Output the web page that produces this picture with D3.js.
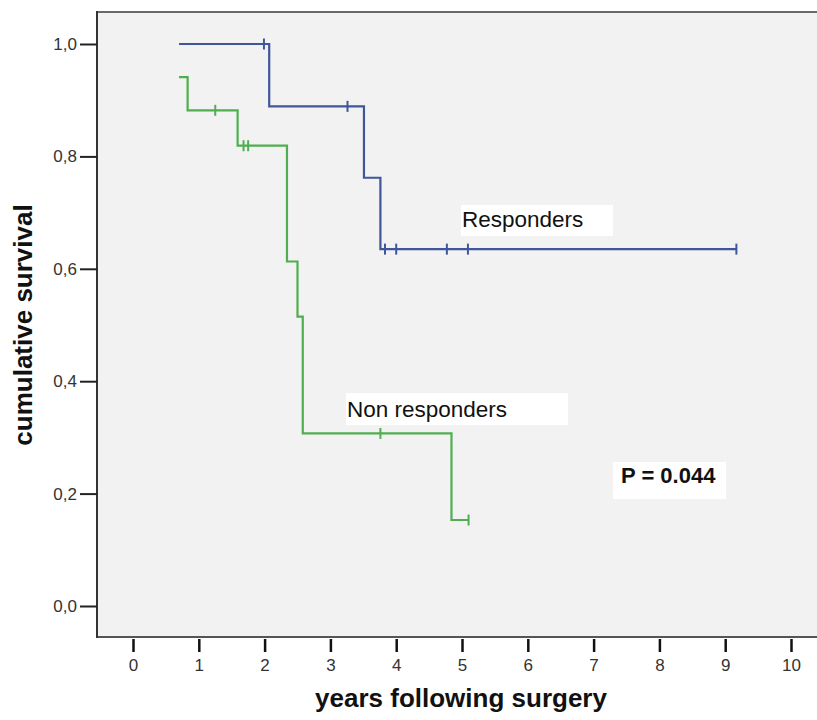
<!DOCTYPE html>
<html>
<head>
<meta charset="utf-8">
<script src="https://cdn.jsdelivr.net/npm/d3@7"></script>
<style>
  body { margin: 0; background: #fff; }
  text { font-family: Arial, "Liberation Sans", sans-serif; }
</style>
</head>
<body>
<div id="container"></div>
<script>
// Responders (blue curve)
const respStart = 0.7;
const respStartSurv = 1.0;
const respDropTimes = [2.07, 3.51, 3.76];
const respDropSurv = [0.889, 0.762, 0.635];
const respCensorTimes = [1.99, 3.26, 3.83, 4.0, 4.77, 5.09, 9.17];

// Non responders (green curve)
const nonStart = 0.7;
const nonStartSurv = 0.941;
const nonDropTimes = [0.83, 1.59, 2.34, 2.50, 2.58, 4.84];
const nonDropSurv = [0.882, 0.819, 0.613, 0.515, 0.307, 0.153];
const nonCensorTimes = [1.25, 1.68, 1.75, 3.76, 5.10];

const xTicks = [0, 1, 2, 3, 4, 5, 6, 7, 8, 9, 10];
const yTicks = [0, 0.2, 0.4, 0.6, 0.8, 1.0];

const WIDTH = 817;
const HEIGHT = 720;

const svg = d3.select("#container")
  .append("svg")
  .attr("width", WIDTH)
  .attr("height", HEIGHT);

const x = d3.scaleLinear().domain([0, 10]).range([133, 791]);
const y = d3.scaleLinear().domain([0, 1]).range([606, 44]);

// plot frame
const frameLeft = 97, frameTop = 12, frameBottom = 637;
svg.append("rect")
  .attr("x", frameLeft)
  .attr("y", frameTop)
  .attr("width", WIDTH - frameLeft)
  .attr("height", frameBottom - frameTop)
  .attr("fill", "#f2f2f2");

svg.append("line")
  .attr("x1", frameLeft).attr("x2", WIDTH)
  .attr("y1", frameTop).attr("y2", frameTop)
  .attr("stroke", "#6a6a6a").attr("stroke-width", 2);
svg.append("line")
  .attr("x1", frameLeft).attr("x2", WIDTH)
  .attr("y1", frameBottom).attr("y2", frameBottom)
  .attr("stroke", "#555").attr("stroke-width", 2);
svg.append("line")
  .attr("x1", frameLeft).attr("x2", frameLeft)
  .attr("y1", frameTop - 1).attr("y2", frameBottom + 1)
  .attr("stroke", "#333").attr("stroke-width", 2);

// axes
const xAxis = svg.append("g")
  .attr("transform", `translate(0,${frameBottom + 2})`)
  .call(d3.axisBottom(x).tickValues(xTicks).tickSize(13).tickPadding(7).tickFormat(d3.format("d")));
xAxis.select(".domain").remove();
xAxis.selectAll(".tick line").attr("stroke", "#111").attr("stroke-width", 2.5);
xAxis.selectAll("text").attr("font-size", 17).attr("fill", "#333");

const yAxis = svg.append("g")
  .attr("transform", `translate(${frameLeft},0)`)
  .call(d3.axisLeft(y).tickValues(yTicks).tickSize(17).tickPadding(3)
    .tickFormat(d => d3.format(".1f")(d).replace(".", ",")));
yAxis.select(".domain").remove();
yAxis.selectAll(".tick line").attr("stroke", "#222").attr("stroke-width", 2);
yAxis.selectAll("text").attr("font-size", 17).attr("fill", "#333");

// axis titles
svg.append("text")
  .attr("x", 461)
  .attr("y", 707)
  .attr("text-anchor", "middle")
  .attr("font-size", 26)
  .attr("font-weight", "bold")
  .attr("fill", "#111")
  .text("years following surgery");

svg.append("text")
  .attr("transform", "translate(32,325) rotate(-90)")
  .attr("text-anchor", "middle")
  .attr("font-size", 26)
  .attr("font-weight", "bold")
  .attr("fill", "#111")
  .text("cumulative survival");

// step curve points
function stepPoints(start, startSurv, dropTimes, dropSurv, censorTimes) {
  let pts = [[start, startSurv]];
  let s = startSurv;
  for (let i = 0; i < dropTimes.length; i++) {
    pts.push([dropTimes[i], s]);
    s = dropSurv[i];
    pts.push([dropTimes[i], s]);
  }
  const end = Math.max(d3.max(censorTimes), d3.max(dropTimes));
  pts.push([end, s]);
  return pts;
}
function survAt(t, start, startSurv, dropTimes, dropSurv) {
  let s = startSurv;
  for (let i = 0; i < dropTimes.length; i++) {
    if (dropTimes[i] <= t) s = dropSurv[i];
  }
  return s;
}

const line = d3.line().x(d => x(d[0])).y(d => y(d[1]));

const groups = [
  { color: "#40569a", start: respStart, startSurv: respStartSurv, drops: respDropTimes, surv: respDropSurv, censor: respCensorTimes },
  { color: "#4fae4f", start: nonStart, startSurv: nonStartSurv, drops: nonDropTimes, surv: nonDropSurv, censor: nonCensorTimes }
];

groups.forEach(g => {
  svg.append("path")
    .attr("d", line(stepPoints(g.start, g.startSurv, g.drops, g.surv, g.censor)))
    .attr("fill", "none")
    .attr("stroke", g.color)
    .attr("stroke-width", 2.2);

  svg.selectAll(null)
    .data(g.censor)
    .enter()
    .append("line")
    .attr("x1", d => x(d)).attr("x2", d => x(d))
    .attr("y1", d => y(survAt(d, g.start, g.startSurv, g.drops, g.surv)) - 5.5)
    .attr("y2", d => y(survAt(d, g.start, g.startSurv, g.drops, g.surv)) + 5.5)
    .attr("stroke", g.color)
    .attr("stroke-width", 2);
});

// labels with white boxes
function labelBox(bx, by, bw, bh, tx, ty, txt, bold, size) {
  svg.append("rect")
    .attr("x", bx).attr("y", by)
    .attr("width", bw).attr("height", bh)
    .attr("fill", "#fff");
  svg.append("text")
    .attr("x", tx).attr("y", ty)
    .attr("font-size", size)
    .attr("font-weight", bold ? "bold" : "normal")
    .attr("fill", "#111")
    .text(txt);
}
labelBox(461, 205, 152, 31, 462, 227, "Responders", false, 22.5);
labelBox(346, 393, 222, 32, 347, 417, "Non responders", false, 22.5);
labelBox(613, 462, 113, 37, 621, 483, "P = 0.044", true, 22);
</script>
</body>
</html>
